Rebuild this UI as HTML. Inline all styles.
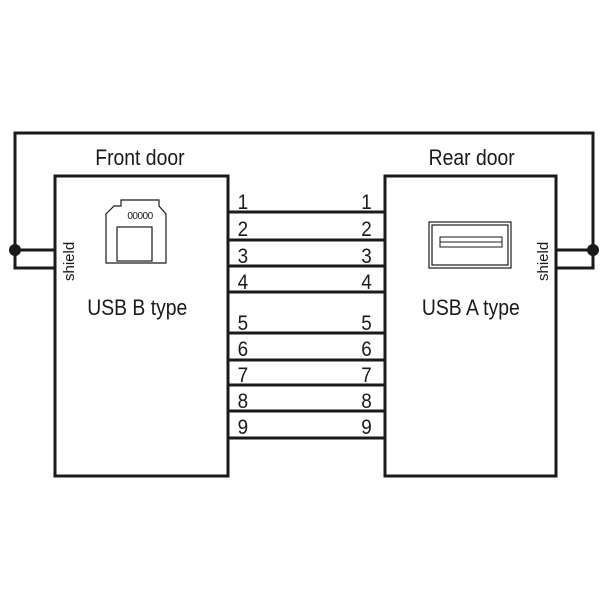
<!DOCTYPE html>
<html><head><style>body{margin:0;background:#fff}</style></head><body>
<svg width="600" height="600" viewBox="0 0 600 600" xmlns="http://www.w3.org/2000/svg" font-family="Liberation Sans, sans-serif" fill="none" stroke="#1a1a1a">
<polyline points="55,268 15,268 15,133 593,133 593,268 556,268" stroke-width="3"/>
<line x1="15" y1="250" x2="55" y2="250" stroke-width="3"/>
<line x1="556" y1="250" x2="593" y2="250" stroke-width="3"/>
<circle cx="15" cy="250" r="6" fill="#1a1a1a" stroke="none"/>
<circle cx="593" cy="250" r="6" fill="#1a1a1a" stroke="none"/>
<rect x="55" y="176" width="173" height="300" stroke-width="3"/>
<rect x="385" y="176" width="171" height="300" stroke-width="3"/>
<g stroke-width="3">
<line x1="228" y1="212" x2="385" y2="212"/><line x1="228" y1="240" x2="385" y2="240"/>
<line x1="228" y1="266" x2="385" y2="266"/><line x1="228" y1="292" x2="385" y2="292"/>
<line x1="228" y1="333" x2="385" y2="333"/><line x1="228" y1="360" x2="385" y2="360"/>
<line x1="228" y1="385" x2="385" y2="385"/><line x1="228" y1="411" x2="385" y2="411"/>
<line x1="228" y1="438" x2="385" y2="438"/>
</g>
<g fill="#1a1a1a" stroke="none" font-size="22">
<g transform="scale(0.88,1)">
<text x="159" y="165" text-anchor="middle">Front door</text>
<text x="536" y="165" text-anchor="middle">Rear door</text>
<text x="156" y="315" text-anchor="middle">USB B type</text>
<text x="535" y="315" text-anchor="middle">USB A type</text>
</g>
<g font-size="21" transform="scale(0.9,1)">
<text x="264" y="209">1</text><text x="264" y="236">2</text><text x="264" y="263">3</text><text x="264" y="289">4</text>
<text x="264" y="330">5</text><text x="264" y="356">6</text><text x="264" y="382">7</text><text x="264" y="408">8</text><text x="264" y="434">9</text>
<g text-anchor="end">
<text x="413" y="209">1</text><text x="413" y="236">2</text><text x="413" y="263">3</text><text x="413" y="289">4</text>
<text x="413" y="330">5</text><text x="413" y="356">6</text><text x="413" y="382">7</text><text x="413" y="408">8</text><text x="413" y="434">9</text>
</g></g>
<text transform="translate(74,281) rotate(-90)" font-size="15">shield</text>
<text transform="translate(548,281) rotate(-90)" font-size="15">shield</text>
</g>
<path d="M121,200 H159 V206 L166,214 V263 H106 V214 L114,206 H121 Z" stroke-width="1.2"/>
<rect x="117" y="227" width="35" height="34" stroke-width="1.2"/>
<text x="140" y="219" font-size="10" fill="#1a1a1a" stroke="none" text-anchor="middle" letter-spacing="-0.5">00000</text>
<rect x="429" y="222" width="82" height="46" stroke-width="1.2"/>
<rect x="432" y="225" width="76" height="40" stroke-width="1.2"/>
<rect x="440" y="237" width="62" height="10" stroke-width="1"/>
<line x1="440" y1="242" x2="502" y2="242" stroke-width="1"/>
</svg>
</body></html>
